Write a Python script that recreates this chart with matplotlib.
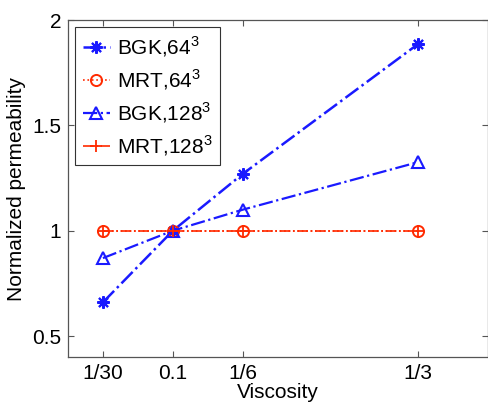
import matplotlib
matplotlib.use("Agg")
import matplotlib.pyplot as plt

plt.rcParams['font.family'] = ['Liberation Sans', 'DejaVu Sans']
plt.rcParams['mathtext.fontset'] = 'custom'
plt.rcParams['mathtext.rm'] = 'Liberation Sans'

viscosity = [1/30, 0.1, 1/6, 1/3]
xtick_labels = ['1/30', '0.1', '1/6', '1/3']
bgk_64 = [0.66, 1.0, 1.27, 1.885]
mrt_64 = [1.0, 1.0, 1.0, 1.0]
bgk_128 = [0.87, 1.0, 1.10, 1.325]
mrt_128 = [1.0, 1.0, 1.0, 1.0]

fig = plt.figure(figsize=(4.89, 4.03), dpi=100)
ax = fig.add_axes([0.139, 0.114, 0.858, 0.836])

blue = '#1a1aff'
red = '#ff2a00'
ax.plot(viscosity, bgk_64, linestyle='-.', color=blue, lw=1.8, marker=(8, 2, 0),
        ms=9, mew=1.5, label=r'BGK,64$^3$')
ax.plot(viscosity, mrt_64, linestyle=':', color=red, lw=1.2, marker='o',
        ms=8, mfc='none', mew=1.4, label=r'MRT,64$^3$')
ax.plot(viscosity, bgk_128, linestyle='-.', color=blue, lw=1.6, marker='^',
        ms=9, mfc='none', mew=1.5, label=r'BGK,128$^3$')
ax.plot(viscosity, mrt_128, linestyle='-.', color=red, lw=1.2, marker='+',
        ms=8, mew=1.3, label=r'MRT,128$^3$')

ax.set_xlim(0, 0.4)
ax.set_ylim(0.4, 2.0)
ax.set_xticks(viscosity)
ax.set_xticklabels(xtick_labels)
ax.set_yticks([0.5, 1.0, 1.5, 2.0])
ax.set_yticklabels(['0.5', '1', '1.5', '2'])
ax.tick_params(direction='in', top=True, right=True, labelsize=15,
               length=4, width=0.8, color='#555555', pad=5)
for s in ax.spines.values():
    s.set_color('#555555')
    s.set_linewidth(0.9)

ax.set_xlabel('Viscosity', fontsize=15, labelpad=0)
ax.set_ylabel('Normalized permeability', fontsize=15, labelpad=4)

leg = ax.legend(loc='upper left', fontsize=15, handlelength=1.3,
                handletextpad=0.35, borderpad=0.35, labelspacing=0.4,
                fancybox=False, framealpha=1, edgecolor='#333333',
                borderaxespad=0.35)
leg.get_frame().set_linewidth(0.8)

fig.savefig('out.png', dpi=100)
